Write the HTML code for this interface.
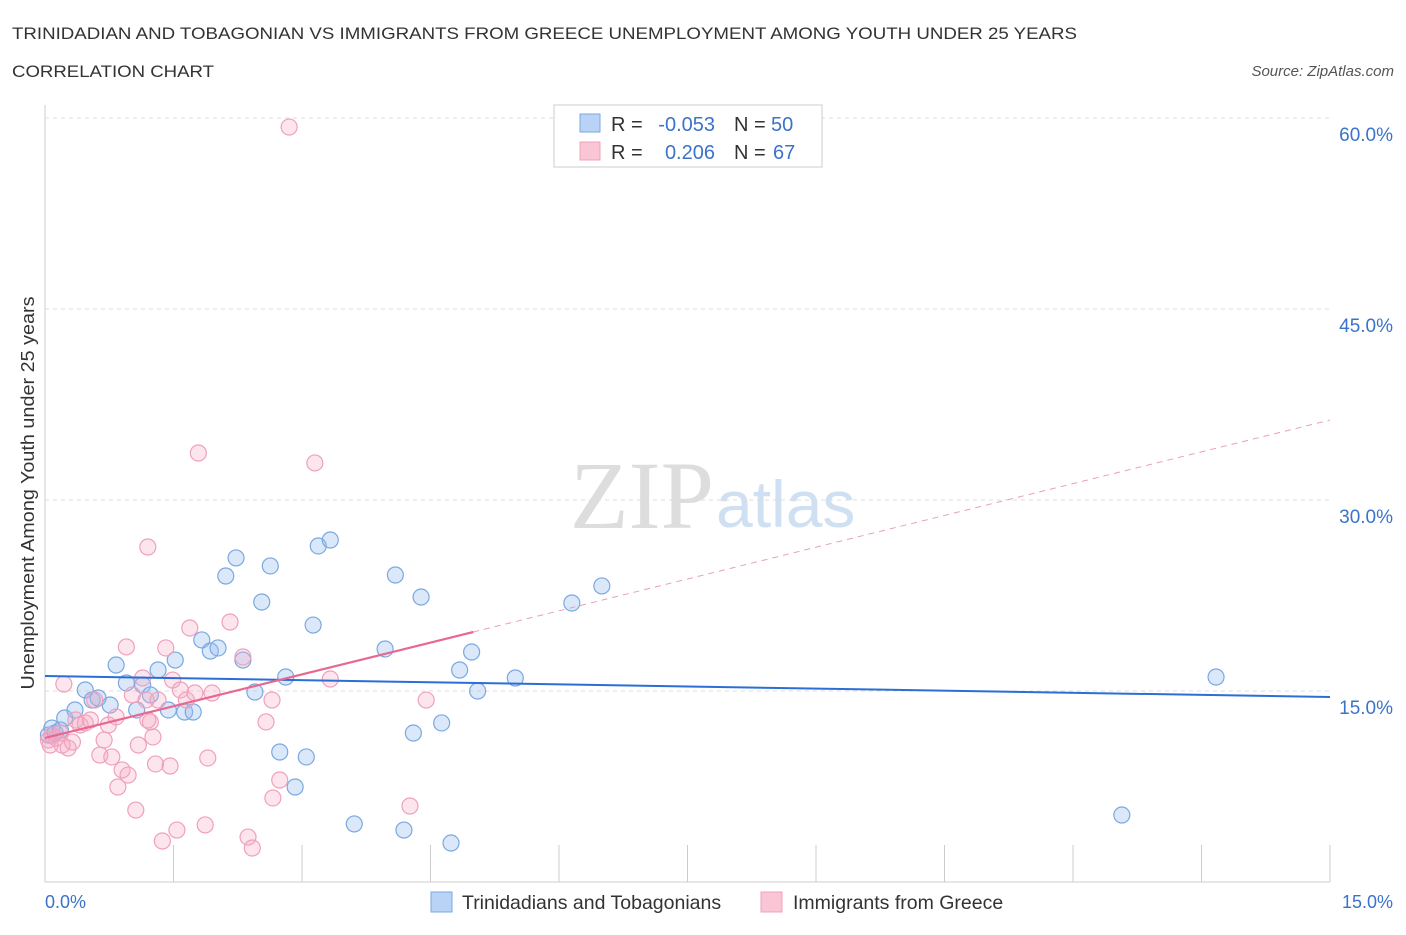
<!DOCTYPE html>
<html><head><meta charset="utf-8"><style>
body{margin:0;background:#fff;font-family:"Liberation Sans",sans-serif}
svg text{font-family:"Liberation Sans",sans-serif}
</style></head><body>
<svg id="c" width="1406" height="930" xmlns="http://www.w3.org/2000/svg">
<text x="12" y="39" font-size="17" fill="#333" textLength="1065" lengthAdjust="spacingAndGlyphs">TRINIDADIAN AND TOBAGONIAN VS IMMIGRANTS FROM GREECE UNEMPLOYMENT AMONG YOUTH UNDER 25 YEARS</text>
<text x="12" y="77" font-size="17" fill="#333" textLength="202" lengthAdjust="spacingAndGlyphs">CORRELATION CHART</text>
<text x="1394" y="76" font-size="15" fill="#555" text-anchor="end" font-style="italic">Source: ZipAtlas.com</text>
<text x="714" y="528" font-size="96" fill="#ddd" text-anchor="end" style="font-family:'Liberation Serif',serif">ZIP</text>
<text x="716" y="527" font-size="66" fill="#cfe0f3">atlas</text>
<g id="grid"></g>
<g id="pts"></g>
<g id="trend"></g>
<text transform="translate(34,493) rotate(-90)" font-size="18" fill="#333" text-anchor="middle" textLength="393" lengthAdjust="spacingAndGlyphs">Unemployment Among Youth under 25 years</text>
<text x="45" y="908" font-size="18" fill="#3b73c8">0.0%</text>
<text x="1393" y="908" font-size="18" fill="#3b73c8" text-anchor="end">15.0%</text>
<g>
<rect x="554" y="105" width="268" height="62" fill="#fff" stroke="#ccc"/>
<rect x="580" y="114" width="20" height="18" fill="#b8d3f5" stroke="#7aa8e0"/>
<rect x="580" y="142" width="20" height="18" fill="#fac6d6" stroke="#f0a0bc"/>
<text x="611" y="131" font-size="20" fill="#333">R =</text>
<text x="715" y="131" font-size="20" fill="#3b73c8" text-anchor="end">-0.053</text>
<text x="734" y="131" font-size="20" fill="#333">N =</text>
<text x="771" y="131" font-size="20" fill="#3b73c8">50</text>
<text x="611" y="159" font-size="20" fill="#333">R =</text>
<text x="715" y="159" font-size="20" fill="#3b73c8" text-anchor="end">0.206</text>
<text x="734" y="159" font-size="20" fill="#333">N =</text>
<text x="773" y="159" font-size="20" fill="#3b73c8">67</text>
</g>
<g>
<rect x="431" y="892" width="21" height="20" fill="#b8d3f5" stroke="#7aa8e0"/>
<text x="462" y="909" font-size="19.5" fill="#333">Trinidadians and Tobagonians</text>
<rect x="761" y="892" width="21" height="20" fill="#fac6d6" stroke="#f0a0bc"/>
<text x="793" y="909" font-size="19.5" fill="#333">Immigrants from Greece</text>
</g>
</svg>
<script>
const yTicks=[15,30,45,60];
const yTickLabels=["15.0%","30.0%","45.0%","60.0%"];
const xTicks=[0,1.5,3,4.5,6,7.5,9,10.5,12,13.5,15];
const blueX=[0.04,0.08,0.12,0.18,0.23,0.35,0.47,0.55,0.62,0.76,0.83,0.95,1.07,1.14,1.23,1.32,1.44,1.52,1.63,1.73,1.83,1.93,2.02,2.11,2.23,2.31,2.45,2.53,2.63,2.74,2.81,2.92,3.05,3.13,3.19,3.33,3.61,3.97,4.09,4.19,4.30,4.39,4.63,4.74,4.84,4.98,5.05,5.49,6.15,6.50,12.57,13.67];
const blueY=[11.54,12.09,11.70,11.94,12.88,13.51,15.08,14.29,14.45,13.90,17.04,15.63,13.51,15.47,14.69,16.65,13.51,17.43,13.35,13.35,19.01,18.14,18.38,24.03,25.45,17.43,14.92,21.99,24.82,10.21,16.10,7.46,9.82,20.18,26.39,26.86,4.56,18.30,24.11,4.08,11.70,22.38,12.49,3.06,16.65,18.06,15.00,16.02,21.91,23.25,5.26,16.10];
const pinkX=[0.04,0.08,0.13,0.18,0.22,0.27,0.32,0.36,0.41,0.47,0.53,0.58,0.64,0.69,0.74,0.78,0.83,0.85,0.90,0.95,0.97,1.02,1.06,1.09,1.14,1.18,1.20,1.23,1.26,1.29,1.32,1.37,1.41,1.46,1.49,1.54,1.58,1.65,1.69,1.75,1.79,1.87,1.90,1.95,2.16,2.31,2.37,2.42,2.58,2.65,2.66,2.74,2.85,3.15,3.33,4.26,4.45,1.20,0.20,0.06];
const pinkY=[11.15,11.54,11.31,11.70,15.55,10.52,10.99,12.72,12.33,12.49,12.72,14.29,9.97,11.15,12.33,9.82,12.96,7.46,8.80,18.46,8.40,14.69,5.65,10.76,16.02,14.29,26.31,12.57,11.39,9.27,14.29,3.22,18.38,9.11,15.86,4.08,15.08,14.29,19.95,14.84,33.69,4.48,9.74,14.84,20.42,17.67,3.53,2.67,12.57,14.29,6.60,8.01,59.29,32.91,15.94,5.97,14.29,12.72,10.76,10.76];
const blueTrend=[16.18,14.53];
const pinkTrend=[11.31,36.28];
const pinkSolidEnd=5.0;
const NS="http://www.w3.org/2000/svg";
const X=v=>45+v/15*1285;
const Y=v=>882-v/15*191;
function mk(t,a,p){const e=document.createElementNS(NS,t);for(const k in a)e.setAttribute(k,a[k]);p.appendChild(e);return e;}
const g=document.getElementById('grid');
mk('line',{x1:45,y1:105,x2:45,y2:882,stroke:'#ccc'},g);
mk('line',{x1:45,y1:882,x2:1330,y2:882,stroke:'#ccc'},g);
yTicks.forEach((v,i)=>{
 const l=mk('line',{x1:45,y1:Y(v),x2:1330,y2:Y(v),stroke:'#ddd','stroke-dasharray':'4,4'},g);
 
 
 const t=mk('text',{x:1393,y:Y(v)+23,'font-size':19,fill:'#3b73c8','text-anchor':'end'},g);
 t.textContent=yTickLabels[i];
 
 
});
xTicks.forEach(v=>{
 const l=mk('line',{x1:X(v),y1:845,x2:X(v),y2:882,stroke:'#ccc'},g);
 
 
});
const p=document.getElementById('pts');
blueX.forEach((v,i)=>{
 const c=mk('circle',{cx:X(v),cy:Y(blueY[i]),r:8,fill:'rgba(150,190,240,0.35)',stroke:'#7aa8e0','stroke-width':1.2},p);
 
 
});
pinkX.forEach((v,i)=>{
 const c=mk('circle',{cx:X(v),cy:Y(pinkY[i]),r:8,fill:'rgba(245,170,195,0.3)',stroke:'#f0a0bc','stroke-width':1.2},p);
 
 
});
const tr=document.getElementById('trend');
const bl=mk('line',{x1:X(0),y1:Y(blueTrend[0]),x2:X(15),y2:Y(blueTrend[1]),stroke:'#2a6fd6','stroke-width':2},tr);


const pv=x=>pinkTrend[0]+(pinkTrend[1]-pinkTrend[0])*x/15;
const pd=mk('line',{x1:X(pinkSolidEnd),y1:Y(pv(pinkSolidEnd)),x2:X(15),y2:Y(pinkTrend[1]),stroke:'#e8a0b8','stroke-width':1,'stroke-dasharray':'6,5'},tr);


const ps=mk('line',{x1:X(0),y1:Y(pinkTrend[0]),x2:X(pinkSolidEnd),y2:Y(pv(pinkSolidEnd)),stroke:'#e8688f','stroke-width':2.2},tr);


</script>
</body></html>
